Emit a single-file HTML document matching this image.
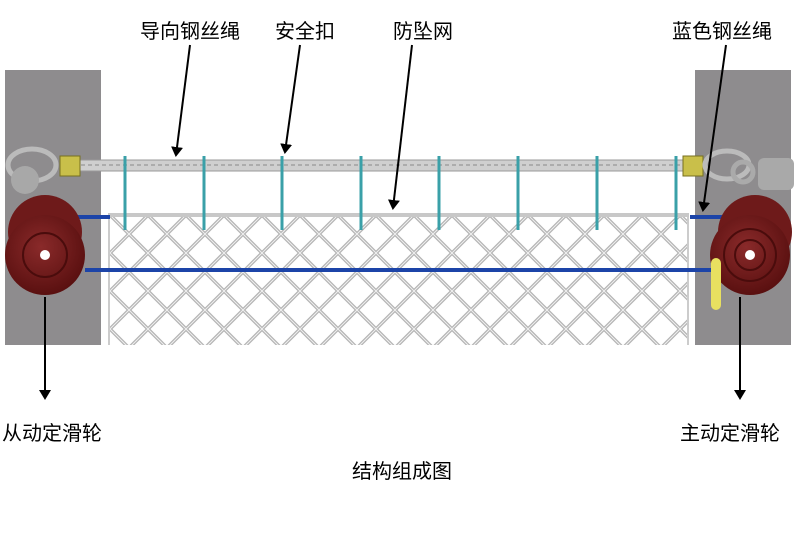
<!DOCTYPE html>
<html><head><meta charset="utf-8"><style>
html,body{margin:0;padding:0;background:#fff;}
body{width:800px;height:533px;overflow:hidden;}
</style></head><body>
<svg width="800" height="533" viewBox="0 0 800 533" xmlns="http://www.w3.org/2000/svg" font-family="'Liberation Sans','Noto Sans CJK SC',sans-serif">
<defs>
<pattern id="mesh" x="110" y="215" width="38" height="38" patternUnits="userSpaceOnUse">
<path d="M0 0 L38 38 M0 38 L38 0 M-19 19 L19 57 M19 -19 L57 19 M-19 19 L19 -19 M19 57 L57 19" stroke="#b4b4b4" stroke-width="3.5" fill="none"/>
<path d="M0 0 L38 38 M0 38 L38 0" stroke="#f0f0f0" stroke-width="1" fill="none"/>
</pattern>
<marker id="ah" markerWidth="10" markerHeight="12" refX="8" refY="6" orient="auto" markerUnits="userSpaceOnUse"><path d="M0 0 L10 6 L0 12 Z" fill="#000"/></marker>
<radialGradient id="pul" cx="0.45" cy="0.4" r="0.6"><stop offset="0" stop-color="#8a2a2a"/><stop offset="1" stop-color="#5a1010"/></radialGradient>
</defs>
<rect x="5" y="70" width="96" height="275" fill="#8e8c8e"/>
<rect x="695" y="70" width="96" height="275" fill="#8e8c8e"/>
<rect x="110" y="215" width="577" height="130" fill="#fff"/>
<rect x="110" y="215" width="577" height="130" fill="url(#mesh)"/>
<rect x="108" y="213" width="581" height="4" fill="#c8c8c8"/>
<line x1="109" y1="217" x2="109" y2="345" stroke="#ccc" stroke-width="2"/>
<line x1="688" y1="217" x2="688" y2="345" stroke="#ccc" stroke-width="2"/>
<rect x="60" y="160" width="632" height="11" fill="#cfcfcf" stroke="#999" stroke-width="1"/>
<line x1="60" y1="165" x2="692" y2="165" stroke="#888" stroke-width="1" stroke-dasharray="4 3"/>
<ellipse cx="32" cy="165" rx="24" ry="16" fill="none" stroke="#bbb" stroke-width="5"/>
<circle cx="25" cy="180" r="14" fill="#a8a8a8"/>
<rect x="60" y="156" width="20" height="20" fill="#c9bf4a" stroke="#776f20"/>
<rect x="683" y="156" width="20" height="20" fill="#c9bf4a" stroke="#776f20"/>
<ellipse cx="727" cy="165" rx="22" ry="14" fill="none" stroke="#bbb" stroke-width="5"/>
<circle cx="743" cy="172" r="10" fill="none" stroke="#aaa" stroke-width="5"/>
<rect x="758" y="158" width="36" height="32" rx="6" fill="#a9a9a9"/>
<g stroke="#3aa0a8" stroke-width="3" fill="none">
<path d="M125 230 L125 156"/><path d="M204 230 L204 156"/><path d="M282 230 L282 156"/><path d="M361 230 L361 156"/><path d="M439 230 L439 156"/><path d="M518 230 L518 156"/><path d="M597 230 L597 156"/><path d="M676 230 L676 156"/>
</g>
<line x1="60" y1="217" x2="110" y2="217" stroke="#1c44a8" stroke-width="4"/>
<line x1="85" y1="270" x2="712" y2="270" stroke="#1c44a8" stroke-width="4"/>
<line x1="690" y1="217" x2="735" y2="217" stroke="#1c44a8" stroke-width="4"/>
<circle cx="45" cy="232" r="37" fill="#6e1a1a"/>
<circle cx="45" cy="255" r="40" fill="url(#pul)"/>
<circle cx="45" cy="255" r="22" fill="none" stroke="#4a0c0c" stroke-width="2"/>
<circle cx="45" cy="255" r="5" fill="#fff"/>
<circle cx="755" cy="232" r="37" fill="#6e1a1a"/>
<circle cx="750" cy="255" r="40" fill="url(#pul)"/>
<circle cx="750" cy="255" r="26" fill="none" stroke="#4a0c0c" stroke-width="2"/>
<circle cx="750" cy="255" r="15" fill="none" stroke="#4a0c0c" stroke-width="2"/>
<circle cx="750" cy="255" r="5" fill="#fff"/>
<rect x="711" y="258" width="10" height="52" rx="5" fill="#e8e060"/>
<g stroke="#000" stroke-width="2" marker-end="url(#ah)">
<line x1="190" y1="45" x2="176" y2="155"/>
<line x1="300" y1="45" x2="285" y2="152"/>
<line x1="412" y1="45" x2="393" y2="208"/>
<line x1="726" y1="45" x2="703" y2="210"/>
<line x1="45" y1="297" x2="45" y2="398"/>
<line x1="740" y1="297" x2="740" y2="398"/>
</g>
<g font-size="20" fill="#000">
<text x="140" y="38">导向钢丝绳</text>
<text x="275" y="38">安全扣</text>
<text x="393" y="38">防坠网</text>
<text x="672" y="38">蓝色钢丝绳</text>
<text x="2" y="440">从动定滑轮</text>
<text x="680" y="440">主动定滑轮</text>
<text x="352" y="478">结构组成图</text>
</g>
</svg>
</body></html>
